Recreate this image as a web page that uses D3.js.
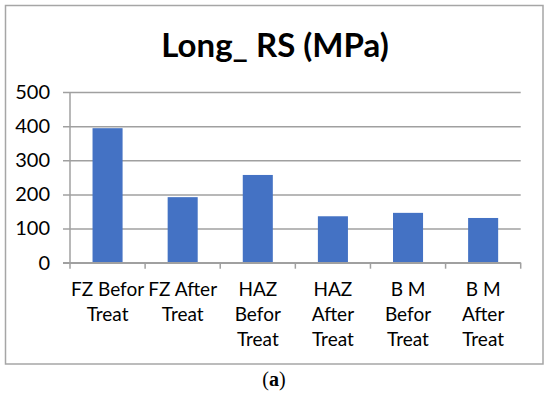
<!DOCTYPE html>
<html>
<head>
<meta charset="utf-8">
<script src="https://cdn.jsdelivr.net/npm/d3@7"></script>
<style>
 body { margin: 0; background: #fff; }
 text { font-family: Lato, "Open Sans", sans-serif; fill: #000; }
</style>
</head>
<body>
<svg id="chart" width="550" height="396"></svg>
<script>
 // data
 const categories = ["FZ Befor Treat", "FZ After Treat", "HAZ Befor Treat",
                     "HAZ After Treat", "B M Befor Treat", "B M After Treat"];
 const tickLabels = [["FZ Befor", "Treat"], ["FZ After", "Treat"], ["HAZ", "Befor", "Treat"],
                     ["HAZ", "After", "Treat"], ["B M", "Befor", "Treat"], ["B M", "After", "Treat"]];
 const values = [394, 192, 257, 136, 146, 131];
 const yTicks = [0, 100, 200, 300, 400, 500];

 const svg = d3.select('#chart');
 const gridColor = '#a0a0a0';
 const plotLeft = 70, plotRight = 520.7, plotTop = 92, plotBottom = 262.7;

 // outer frame
 svg.append('rect')
    .attr('x', 5.5).attr('y', 5.5)
    .attr('width', 537.5).attr('height', 358.5)
    .attr('fill', 'none')
    .attr('stroke', '#a6a6a6')
    .attr('stroke-width', 1.5);

 svg.append('text')
    .attr('x', 275).attr('y', 57)
    .attr('text-anchor', 'middle')
    .attr('font-size', 33)
    .attr('font-weight', 'bold')
    .text('Long_ RS (MPa)');

 const x = d3.scaleBand().domain(categories).range([plotLeft, plotRight]).paddingInner(0).paddingOuter(0);
 const y = d3.scaleLinear().domain([0, 500]).range([plotBottom, plotTop]);

 // gridlines + y labels
 const yAxis = d3.axisLeft(y).tickValues(yTicks).tickSize(-(plotRight - plotLeft + 7)).tickPadding(13);
 const gy = svg.append('g').attr('transform', `translate(${plotLeft - 7},0)`).call(yAxis);
 gy.select('.domain').remove();
 gy.selectAll('.tick line').attr('stroke', gridColor).attr('stroke-width', 1.5);
 gy.selectAll('.tick text')
   .attr('x', -13)
   .attr('font-size', 20)
   .attr('font-family', 'Lato, sans-serif')
   .attr('fill', '#000');

 // vertical axis line
 svg.append('line')
    .attr('x1', plotLeft).attr('x2', plotLeft)
    .attr('y1', plotTop).attr('y2', plotBottom)
    .attr('stroke', gridColor).attr('stroke-width', 1.5);

 // bars
 svg.selectAll('.bar')
    .data(values)
    .enter()
    .append('rect')
    .attr('class', 'bar')
    .attr('fill', '#4472c4')
    .attr('x', (d, i) => x(categories[i]) + x.bandwidth() * 0.3)
    .attr('width', x.bandwidth() * 0.4)
    .attr('y', d => y(d))
    .attr('height', d => y(0) - y(d));

 // category axis with ticks at band edges
 const gx = svg.append('g');
 gx.append('line')
   .attr('x1', plotLeft - 7).attr('x2', plotRight)
   .attr('y1', y(0)).attr('y2', y(0))
   .attr('stroke', gridColor).attr('stroke-width', 1.5);
 const edges = categories.map(c => x(c)).concat([plotRight]);
 gx.selectAll('.edge')
   .data(edges)
   .enter()
   .append('line')
   .attr('x1', d => d).attr('x2', d => d)
   .attr('y1', y(0)).attr('y2', y(0) + 6)
   .attr('stroke', gridColor).attr('stroke-width', 1.5);

 const lab = svg.selectAll('.cat')
    .data(tickLabels)
    .enter()
    .append('text')
    .attr('class', 'cat')
    .attr('text-anchor', 'middle')
    .attr('font-size', 19)
    .attr('y', 296);
 lab.selectAll('tspan')
    .data((d, i) => d.map(s => ({s, i})))
    .enter()
    .append('tspan')
    .attr('x', d => x(categories[d.i]) + x.bandwidth() / 2)
    .attr('dy', (d, j) => j === 0 ? 0 : 25)
    .text(d => d.s);

 // caption
 const cap = svg.append('text')
    .attr('x', 274).attr('y', 386)
    .attr('text-anchor', 'middle')
    .attr('font-size', 20)
    .style('font-family', '"Liberation Serif", serif');
 cap.append('tspan').text('(');
 cap.append('tspan').attr('font-weight', 'bold').text('a');
 cap.append('tspan').text(')');
</script>
</body>
</html>
